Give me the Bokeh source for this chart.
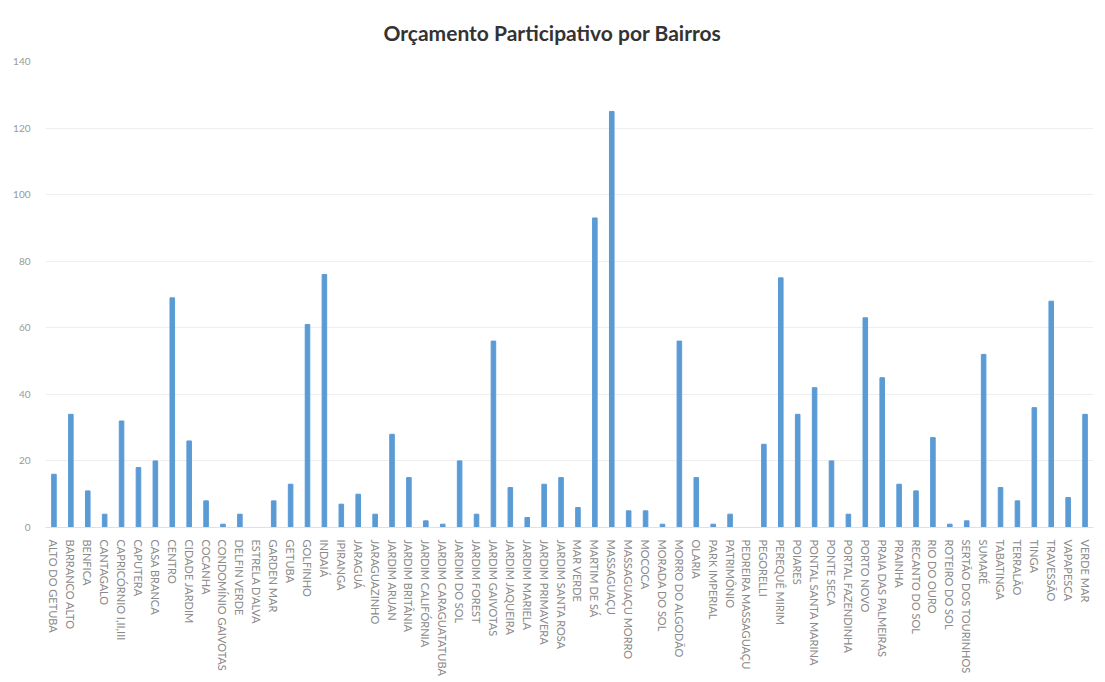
from bokeh.plotting import figure
from bokeh.models import FixedTicker, Range1d
from bokeh.embed import file_html
from bokeh.resources import INLINE

bairros = [
    "ALTO DO GETUBA", "BARRANCO ALTO", "BENFICA", "CANTAGALO", "CAPRICÓRNIO I,II,III",
    "CAPUTERA", "CASA BRANCA", "CENTRO", "CIDADE JARDIM", "COCANHA",
    "CONDOMÍNIO GAIVOTAS", "DELFIN VERDE", "ESTRELA D'ALVA", "GARDEN MAR", "GETUBA",
    "GOLFINHO", "INDAIÁ", "IPIRANGA", "JARAGUÁ", "JARAGUAZINHO",
    "JARDIM ARUAN", "JARDIM BRITÂNIA", "JARDIM CALIFÓRNIA", "JARDIM CARAGUATATUBA", "JARDIM DO SOL",
    "JARDIM FOREST", "JARDIM GAIVOTAS", "JARDIM JAQUEIRA", "JARDIM MARIELA", "JARDIM PRIMAVERA",
    "JARDIM SANTA ROSA", "MAR VERDE", "MARTIM DE SÁ", "MASSAGUAÇU", "MASSAGUAÇU MORRO",
    "MOCOCA", "MORADA DO SOL", "MORRO DO ALGODÃO", "OLARIA", "PARK IMPERIAL",
    "PATRIMÔNIO", "PEDREIRA MASSAGUAÇU", "PEGORELLI", "PEREQUÊ MIRIM", "POIARES",
    "PONTAL SANTA MARINA", "PONTE SECA", "PORTAL FAZENDINHA", "PORTO NOVO", "PRAIA DAS PALMEIRAS",
    "PRAINHA", "RECANTO DO SOL", "RIO DO OURO", "ROTEIRO DO SOL", "SERTÃO DOS TOURINHOS",
    "SUMARÉ", "TABATINGA", "TERRALÃO", "TINGA", "TRAVESSÃO",
    "VAPAPESCA", "VERDE MAR",
]

valores = [
    16, 34, 11, 4, 32,
    18, 20, 69, 26, 8,
    1, 4, 0, 8, 13,
    61, 76, 7, 10, 4,
    28, 15, 2, 1, 20,
    4, 56, 12, 3, 13,
    15, 6, 93, 125, 5,
    5, 1, 56, 15, 1,
    4, 0, 25, 75, 34,
    42, 20, 4, 63, 45,
    13, 11, 27, 1, 2,
    52, 12, 8, 36, 68,
    9, 34,
]

y_ticks = [0, 20, 40, 60, 80, 100, 120, 140]

p = figure(
    x_range=bairros,
    y_range=Range1d(0, 140),
    frame_width=1048,
    frame_height=466,
    min_border_left=45,
    min_border_right=3,
    min_border_top=61,
    min_border_bottom=10,
    output_backend="svg",
    toolbar_location=None,
    title="Orçamento Participativo por Bairros",
)

p.vbar(x=bairros, top=valores, width=0.27, color="#5B9BD5")

p.title.align = "left"
p.title.offset = 338
p.title.standoff = 34
p.title.text_font = "Lato"
p.title.text_font_size = "21px"
p.title.text_font_style = "bold"
p.title.text_color = "#333333"

p.outline_line_color = None
p.xgrid.grid_line_color = None
p.ygrid.grid_line_color = "#eeeeee"
p.yaxis.ticker = FixedTicker(ticks=y_ticks)

p.yaxis.axis_line_color = None
p.yaxis.major_tick_line_color = None
p.yaxis.minor_tick_line_color = None
p.yaxis.major_label_text_font = "Lato"
p.yaxis.major_label_text_font_size = "10px"
p.yaxis.major_label_text_color = "#999999"
p.yaxis.major_label_standoff = 9

p.xaxis.axis_line_color = "#e0e0e0"
p.xaxis.major_tick_line_color = None
p.xaxis.major_label_orientation = "vertical"
p.xaxis.major_label_text_font = "Lato"
p.xaxis.major_label_text_font_size = "11px"
p.xaxis.major_label_text_color = "#8a8a8a"
p.xaxis.major_label_standoff = 6

open("out.html", "w").write(file_html(p, INLINE))
